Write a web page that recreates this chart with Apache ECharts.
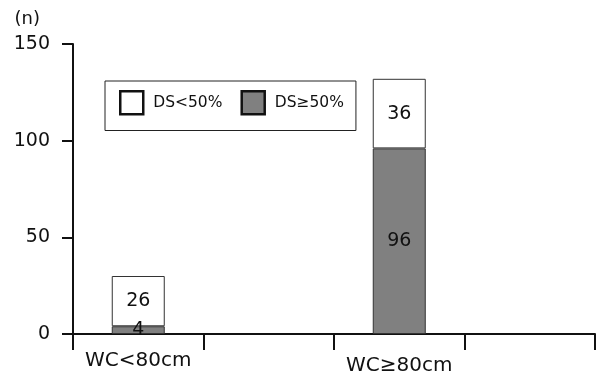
<!DOCTYPE html>
<html>
<head>
<meta charset="utf-8">
<script src="https://cdn.jsdelivr.net/npm/echarts@6/dist/echarts.min.js"></script>
<style>html,body{margin:0;padding:0;background:#fff}#c{width:600px;height:379px}</style>
</head>
<body>
<div id="c"></div>
<script>
var categories = ['WC<80cm', '', 'WC≥80cm', ''];
var dsHigh = [4, '-', 96, '-'];
var dsLow = [26, '-', 36, '-'];
var seriesNames = ['DS<50%', 'DS≥50%'];
var yTicks = {min: 0, max: 150, interval: 50};

var FONT = 'DejaVu Sans';
var chart = echarts.init(document.getElementById('c'));
chart.setOption({
  animation: false,
  textStyle: {fontFamily: FONT},
  grid: {left: 73, right: 5, top: 44, bottom: 45},
  legend: {
    left: 105, top: 81,
    padding: [9, 12, 15, 14],
    borderColor: '#222', borderWidth: 1,
    icon: 'rect',
    itemWidth: 23, itemHeight: 23, itemGap: 18,
    data: seriesNames,
    itemStyle: {borderColor: '#111', borderWidth: 2.5},
    textStyle: {fontSize: 15.5, color: '#111', fontFamily: FONT, padding: [0, 0, 12, 5]},
    selectedMode: false
  },
  xAxis: {
    type: 'category',
    data: categories.map(function (c, i) {
      return i === 2 ? {value: c, textStyle: {padding: [5, 0, 0, 0]}} : c;
    }),
    axisLine: {lineStyle: {color: '#111', width: 2}},
    axisTick: {show: true, length: 16, lineStyle: {color: '#111', width: 2}, alignWithLabel: false},
    axisLabel: {fontSize: 20, color: '#111', margin: 17, fontFamily: FONT, interval: 0}
  },
  yAxis: {
    type: 'value',
    min: yTicks.min, max: yTicks.max, interval: yTicks.interval,
    name: '(n)',
    nameLocation: 'end',
    nameGap: 16,
    nameTextStyle: {fontSize: 18, color: '#111', align: 'right', padding: [0, 33, 0, 0], fontFamily: FONT},
    axisLine: {show: true, lineStyle: {color: '#111', width: 2}},
    axisTick: {show: true, length: 11, lineStyle: {color: '#111', width: 2}},
    axisLabel: {fontSize: 19, color: '#111', margin: 23, fontFamily: FONT},
    splitLine: {show: false}
  },
  series: [
    {
      name: seriesNames[1], type: 'bar', stack: 's', barWidth: 53,
      data: dsHigh,
      itemStyle: {color: '#808080', borderColor: '#333', borderWidth: 1},
      label: {show: true, position: 'inside', fontSize: 19, color: '#111', fontFamily: FONT}
    },
    {
      name: seriesNames[0], type: 'bar', stack: 's', barWidth: 53,
      data: dsLow,
      itemStyle: {color: '#ffffff', borderColor: '#333', borderWidth: 1},
      label: {show: true, position: 'inside', fontSize: 19, color: '#111', fontFamily: FONT}
    }
  ]
});
</script>
</body>
</html>
